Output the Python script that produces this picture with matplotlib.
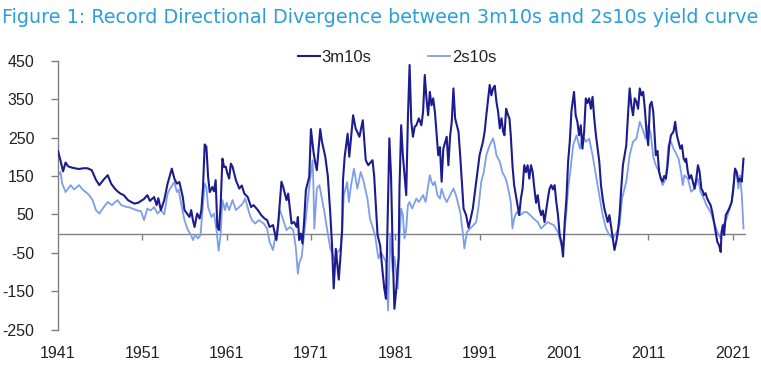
import matplotlib
matplotlib.use("Agg")
import matplotlib.pyplot as plt

# ---- data ----
years_3m10s = [
    1941.0, 1941.3, 1941.6, 1941.9, 1942.2, 1942.6, 1943.0, 1943.5, 1944.0, 1944.5,
    1945.0, 1945.5, 1945.9, 1946.4, 1946.9, 1947.3, 1947.7, 1948.05, 1948.4, 1948.8,
    1949.3, 1949.7, 1950.05, 1950.5, 1950.85, 1951.2, 1951.6, 1951.9, 1952.4, 1952.7,
    1952.9, 1953.2, 1953.6, 1954.0, 1954.5, 1954.8, 1955.1, 1955.4, 1955.8, 1956.0,
    1956.3, 1956.6, 1956.8, 1957.0, 1957.2, 1957.5, 1957.8, 1958.0, 1958.2, 1958.4,
    1958.6, 1958.8, 1959.0, 1959.3, 1959.5, 1959.7, 1959.9, 1960.1, 1960.3, 1960.5,
    1960.7, 1960.9, 1961.1, 1961.3, 1961.5, 1961.7, 1962.1, 1962.5, 1962.8, 1963.1,
    1963.5, 1963.9, 1964.2, 1964.7, 1965.1, 1965.5, 1965.8, 1966.1, 1966.5, 1966.9,
    1967.1, 1967.3, 1967.5, 1967.7, 1968.1, 1968.3, 1968.7, 1969.0, 1969.3, 1969.45,
    1969.6, 1969.8, 1970.0, 1970.2, 1970.4, 1970.8, 1971.0, 1971.3, 1971.5, 1971.7,
    1972.1, 1972.3, 1972.7, 1973.0, 1973.3, 1973.5, 1973.7, 1973.95, 1974.3, 1974.5,
    1974.7, 1974.8, 1975.0, 1975.35, 1975.55, 1976.0, 1976.3, 1976.75, 1977.15, 1977.5,
    1977.8, 1978.3, 1978.5, 1978.9, 1979.2, 1979.5, 1979.7, 1979.9, 1980.3, 1980.5,
    1980.7, 1980.9, 1981.1, 1981.4, 1981.5, 1981.7, 1981.9, 1982.3, 1982.5, 1982.7,
    1982.9, 1983.1, 1983.3, 1983.5, 1983.8, 1984.1, 1984.3, 1984.5, 1984.7, 1984.9,
    1985.1, 1985.3, 1985.5, 1985.7, 1986.1, 1986.3, 1986.5, 1986.7, 1987.1, 1987.3,
    1987.5, 1987.7, 1987.9, 1988.1, 1988.3, 1988.5, 1988.7, 1988.9, 1989.1, 1989.4,
    1989.7, 1990.2, 1990.4, 1990.6, 1990.8, 1991.0, 1991.4, 1991.6, 1991.8, 1992.2,
    1992.4, 1992.6, 1992.8, 1993.0, 1993.2, 1993.4, 1993.6, 1993.8, 1993.95, 1994.15,
    1994.35, 1994.55, 1994.7, 1994.9, 1995.1, 1995.3, 1995.5, 1995.7, 1995.9, 1996.1,
    1996.3, 1996.5, 1996.7, 1996.9, 1997.1, 1997.3, 1997.5, 1997.7, 1997.9, 1998.1,
    1998.3, 1998.5, 1998.7, 1998.9, 1999.1, 1999.3, 1999.5, 1999.7, 1999.9, 2000.1,
    2000.3, 2000.5, 2000.7, 2000.9, 2001.1, 2001.3, 2001.5, 2001.7, 2001.9, 2002.2,
    2002.4, 2002.6, 2002.8, 2003.0, 2003.2, 2003.4, 2003.6, 2003.8, 2004.0, 2004.2,
    2004.4, 2004.6, 2004.8, 2005.2, 2005.4, 2005.6, 2005.8, 2006.0, 2006.2, 2006.4,
    2006.6, 2006.8, 2007.0, 2007.2, 2007.4, 2007.6, 2007.8, 2008.0, 2008.2, 2008.4,
    2008.6, 2008.8, 2009.0, 2009.2, 2009.4, 2009.6, 2009.8, 2010.0, 2010.2, 2010.4,
    2010.6, 2010.8, 2011.0, 2011.2, 2011.4, 2011.6, 2011.9, 2012.1, 2012.3, 2012.5,
    2012.7, 2012.9, 2013.1, 2013.3, 2013.5, 2013.7, 2014.0, 2014.2, 2014.4, 2014.6,
    2014.8, 2015.0, 2015.2, 2015.4, 2015.5, 2015.7, 2015.9, 2016.1, 2016.3, 2016.5,
    2016.7, 2016.9, 2017.1, 2017.3, 2017.5, 2017.6, 2017.8, 2018.0, 2018.2, 2018.4,
    2018.6, 2018.8, 2019.0, 2019.2, 2019.4, 2019.6, 2019.7, 2019.85, 2020.0, 2020.2,
    2020.4, 2020.6, 2020.9, 2021.1, 2021.3, 2021.5, 2021.7, 2021.9, 2022.1, 2022.3,
]
vals_3m10s = [
    215, 190, 162, 185, 175, 172, 170, 168, 170, 170,
    165, 140, 126, 140, 152, 130, 118, 110, 104, 100,
    87, 82, 78, 80, 85, 90, 100, 85, 95, 74,
    92, 61, 87, 130, 169, 143, 130, 134, 95, 61,
    52, 43, 61, 35, 17, 52, 39, 60, 121, 232,
    226, 148, 108, 121, 110, 139, 17, 9, 78, 195,
    173, 174, 156, 143, 182, 174, 139, 117, 125, 104,
    95, 69, 74, 61, 48, 39, 35, 17, 22, -17,
    20, 78, 135, 122, 87, 104, 26, 30, 17, 43,
    -17, 0, -26, 35, 113, 148, 272, 213, 186, 165,
    272, 240, 200, 150, 50, -30, -143, -40, -120, -60,
    10, 139, 200, 260, 200, 308, 274, 252, 295, 191,
    178, 191, 150, -4, -30, -100, -143, -170, 248, 150,
    -50, -196, -150, -60, 117, 282, 204, 100, 300, 439,
    291, 252, 278, 282, 300, 282, 317, 413, 352, 308,
    369, 334, 352, 317, 204, 225, 135, 221, 252, 178,
    252, 291, 378, 300, 282, 265, 204, 135, 65, 48,
    15, 65, 100, 135, 170, 204, 239, 265, 308, 387,
    360, 378, 385, 343, 317, 274, 300, 265, 256, 325,
    310, 299, 256, 178, 126, 100, 74, 48, 91, 117,
    178, 160, 178, 143, 178, 160, 117, 80, 100, 65,
    48, 60, 30, 60, 91, 117, 126, 115, 126, 82,
    48, -4, -22, -60, 30, 91, 187, 240, 320, 369,
    308, 291, 256, 282, 221, 265, 352, 340, 352, 325,
    356, 300, 256, 187, 126, 91, 65, 48, 30, 48,
    17, -13, -43, -22, 4, 48, 117, 178, 204, 230,
    308, 378, 334, 308, 352, 343, 325, 378, 360, 369,
    325, 265, 230, 334, 343, 317, 204, 215, 160, 143,
    135, 150, 143, 178, 230, 256, 265, 291, 256, 239,
    221, 230, 195, 187, 195, 160, 143, 152, 135, 117,
    143, 178, 160, 117, 109, 100, 105, 91, 82, 74,
    56, 30, 4, -22, -30, -48, 4, 22, -4, 48,
    56, 65, 82, 117, 169, 160, 135, 143, 135, 195,
]

years_2s10s = [
    1941.0, 1941.3, 1941.5, 1941.9, 1942.5, 1942.9, 1943.5, 1943.9, 1944.3, 1944.7,
    1945.1, 1945.5, 1945.9, 1946.3, 1946.9, 1947.4, 1948.05, 1948.5, 1949.0, 1949.5,
    1949.85, 1950.4, 1950.85, 1951.2, 1951.6, 1952.0, 1952.4, 1952.8, 1953.2, 1953.6,
    1954.0, 1954.4, 1954.8, 1955.1, 1955.3, 1955.6, 1956.0, 1956.4, 1956.8, 1957.0,
    1957.3, 1957.6, 1957.9, 1958.2, 1958.4, 1958.6, 1958.8, 1959.2, 1959.5, 1959.8,
    1960.05, 1960.3, 1960.5, 1960.8, 1961.0, 1961.3, 1961.7, 1962.1, 1962.5, 1962.9,
    1963.2, 1963.7, 1964.0, 1964.4, 1964.8, 1965.4, 1965.8, 1966.1, 1966.5, 1966.7,
    1967.0, 1967.3, 1967.6, 1968.1, 1968.5, 1968.9, 1969.2, 1969.45, 1969.6, 1969.9,
    1970.2, 1970.4, 1970.8, 1971.2, 1971.3, 1971.4, 1971.7, 1972.0, 1972.6, 1972.9,
    1973.3, 1973.6, 1973.9, 1974.1, 1974.5, 1974.7, 1974.9, 1975.3, 1975.5, 1975.7,
    1976.1, 1976.5, 1976.9, 1977.2, 1977.7, 1978.0, 1978.6, 1979.0, 1979.3, 1979.9,
    1980.15, 1980.4, 1980.7, 1980.9, 1981.3, 1981.5, 1981.7, 1981.9, 1982.1, 1982.3,
    1982.5, 1982.7, 1983.0, 1983.5, 1983.8, 1984.3, 1984.6, 1985.1, 1985.3, 1985.5,
    1985.7, 1986.0, 1986.3, 1986.5, 1986.8, 1987.1, 1987.5, 1987.9, 1988.2, 1988.7,
    1989.0, 1989.2, 1989.5, 1989.9, 1990.2, 1990.6, 1990.9, 1991.2, 1991.5, 1991.8,
    1992.2, 1992.6, 1992.8, 1993.0, 1993.4, 1993.7, 1994.1, 1994.4, 1994.7, 1994.9,
    1995.1, 1995.4, 1995.8, 1996.3, 1996.6, 1997.0, 1997.4, 1997.9, 1998.3, 1998.7,
    1999.1, 1999.4, 1999.8, 2000.3, 2000.7, 2000.9, 2001.1, 2001.3, 2001.5, 2001.8,
    2002.1, 2002.5, 2002.9, 2003.2, 2003.6, 2004.0, 2004.4, 2004.8, 2005.2, 2005.6,
    2006.0, 2006.4, 2006.8, 2007.1, 2007.6, 2007.9, 2008.4, 2008.8, 2009.2, 2009.6,
    2010.0, 2010.3, 2010.7, 2011.0, 2011.3, 2011.6, 2011.9, 2012.3, 2012.7, 2013.1,
    2013.4, 2013.7, 2014.0, 2014.2, 2014.6, 2014.9, 2015.1, 2015.3, 2015.7, 2016.1,
    2016.5, 2016.9, 2017.2, 2017.6, 2017.9, 2018.4, 2018.8, 2019.2, 2019.6, 2019.75,
    2019.9, 2020.3, 2020.9, 2021.1, 2021.3, 2021.5, 2021.7, 2021.9, 2022.1, 2022.3,
]
vals_2s10s = [
    152, 160, 130, 108, 126, 115, 126, 115, 108, 100,
    87, 61, 52, 65, 82, 74, 87, 74, 70, 68,
    65, 60, 58, 35, 65, 60, 69, 52, 61, 50,
    104, 121, 134, 108, 115, 78, 35, 9, -4, -17,
    -4, -13, -4, 78, 130, 121, 69, 43, 52, 9,
    -45, 0, 87, 61, 80, 61, 87, 61, 69, 78,
    91, 52, 35, 26, 35, 26, 13, -22, -43, -17,
    9, 61, 43, 9, 17, 9, -35, -105, -78, -61,
    0, 43, 122, 191, 120, 13, 117, 126, 56, 13,
    -39, -57, -74, -50, -39, 13, 100, 134, 82, 117,
    169, 117, 160, 140, 91, 39, -4, -65, -48, -74,
    -200, 0, -100, -60, -143, -22, 65, 48, -13, 13,
    74, 82, 65, 91, 82, 100, 82, 152, 135, 126,
    135, 100, 91, 117, 95, 82, 100, 117, 100, 56,
    4, -39, 4, 13, 20, 30, 74, 135, 160, 204,
    230, 248, 230, 204, 187, 160, 143, 117, 82, 13,
    39, 56, 48, 56, 56, 48, 39, 30, 13, 22,
    30, 26, 22, 4, -30, -39, 13, 56, 117, 169,
    230, 256, 221, 256, 239, 247, 204, 152, 100, 48,
    13, -4, -13, -4, 22, 91, 135, 204, 239, 247,
    291, 274, 247, 282, 260, 200, 178, 160, 126, 143,
    230, 239, 221, 213, 195, 160, 126, 152, 143, 109,
    117, 143, 109, 91, 74, 56, 30, 4, -13, 4,
    22, 39, 82, 126, 169, 152, 117, 152, 100, 13,
]

series_names = ["3m10s", "2s10s"]
year_ticks = [1941, 1951, 1961, 1971, 1981, 1991, 2001, 2011, 2021]
value_ticks = [450, 350, 250, 150, 50, -50, -150, -250]
title = "Figure 1: Record Directional Divergence between 3m10s and 2s10s yield curve"

# ---- style ----
plt.rcParams["font.family"] = ["Liberation Sans", "DejaVu Sans"]
dark_col = "#1c1c8e"
light_col = "#7d9ee9"
grey = "#808080"
text_col = "#222222"

fig = plt.figure(figsize=(7.61, 3.66), dpi=100)
ax = fig.add_axes([0.0762, 0.0997, 0.903, 0.7343])

ax.plot(years_3m10s, vals_3m10s, color=dark_col, lw=1.5, label=series_names[0], zorder=3)
ax.plot(years_2s10s, vals_2s10s, color=light_col, lw=1.3, label=series_names[1], zorder=2)

ax.set_xlim(1941, 2022.5)
ax.set_ylim(-250, 450)

for s in ["top", "right", "bottom"]:
    ax.spines[s].set_visible(False)
ax.spines["left"].set_color(grey)
ax.spines["left"].set_linewidth(1.0)

ax.set_yticks(value_ticks)
ax.set_yticklabels([str(v) for v in value_ticks], fontsize=11.5, color=text_col)
ax.tick_params(axis="y", direction="out", length=5, width=1, color=grey, pad=12)

ax.set_xticks(year_ticks)
ax.set_xticklabels([str(y) for y in year_ticks], fontsize=11.5, color=text_col)
ax.tick_params(axis="x", length=0, pad=12)

# zero line carrying the year tick marks
zero_frac = (0 - (-250)) / (450 - (-250))
sec = ax.secondary_xaxis(zero_frac)
sec.set_xticks(year_ticks[1:])
sec.tick_params(axis="x", direction="out", length=4, width=1, color=grey, labelbottom=False, labeltop=False)
for s in sec.spines.values():
    s.set_color(grey)
    s.set_linewidth(1.0)

leg = fig.legend(loc="center", bbox_to_anchor=(0.522, 0.843), ncol=2, frameon=False,
                 fontsize=12, handlelength=1.3, handletextpad=0.1, columnspacing=3.4)
for t in leg.get_texts():
    t.set_color(text_col)

fig.text(0.003, 0.978, title, fontsize=13.8, color="#2b9fd8", ha="left", va="top",
         family=["DejaVu Sans"])

fig.savefig("out.png", dpi=100)
